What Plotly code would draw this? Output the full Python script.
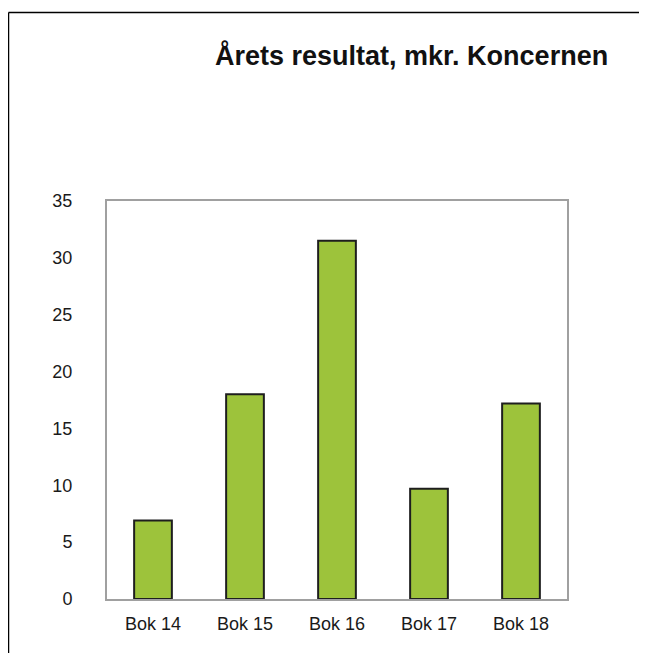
"""
Bar chart: Årets resultat, mkr. Koncernen
"""
import plotly.graph_objects as go

categories = ['Bok 14', 'Bok 15', 'Bok 16', 'Bok 17', 'Bok 18']
resultat = [6.9, 18.0, 31.5, 9.7, 17.2]

# the page body has an 8px margin, so the figure starts at (8, 8)
OFF = 8
W, H = 647 - OFF, 653 - OFF
L, R, T, B = 107 - OFF, 80, 201 - OFF, 54
pw, ph = W - L - R, H - T - B


def px_x(x):
    return (x - OFF - L) / pw


def px_y(y):
    return (H - B - (y - OFF)) / ph


fig = go.Figure()
fig.add_trace(go.Bar(
    x=categories,
    y=resultat,
    width=0.41,
    marker_color='#9dc33b',
    marker_line_color='#1e1e1e',
    marker_line_width=2,
))

# cropped frame: only the top and left edges are visible
frame = dict(color='#000000', width=1.5)
fig.add_shape(type='line', xref='paper', yref='paper',
              x0=px_x(8.5), x1=px_x(660), y0=px_y(12.5), y1=px_y(12.5), line=frame)
fig.add_shape(type='line', xref='paper', yref='paper',
              x0=px_x(8.5), x1=px_x(8.5), y0=px_y(12.5), y1=px_y(670), line=frame)

fig.add_annotation(text='<b>Årets resultat, mkr. Koncernen</b>',
                   xref='paper', yref='paper', x=px_x(411), y=px_y(55),
                   showarrow=False, xanchor='center', yanchor='middle',
                   font=dict(family='Liberation Sans, Arial', size=27, color='#111111'))

fig.update_layout(
    width=W, height=H,
    margin=dict(l=L, r=R, t=T, b=B, pad=0),
    paper_bgcolor='white', plot_bgcolor='white',
    showlegend=False,
    font=dict(family='Liberation Sans, Arial', size=18, color='#1a1a1a'),
)
fig.update_xaxes(showline=True, linecolor='#a0a0a0', linewidth=2, mirror=True,
                 showgrid=False, ticks='', ticklabelstandoff=7)
fig.update_yaxes(range=[0, 35], dtick=5, showline=True, linecolor='#a0a0a0',
                 linewidth=2, mirror=True, showgrid=False, zeroline=False,
                 ticks='', ticklabelstandoff=29)

fig.write_html("out.html")
